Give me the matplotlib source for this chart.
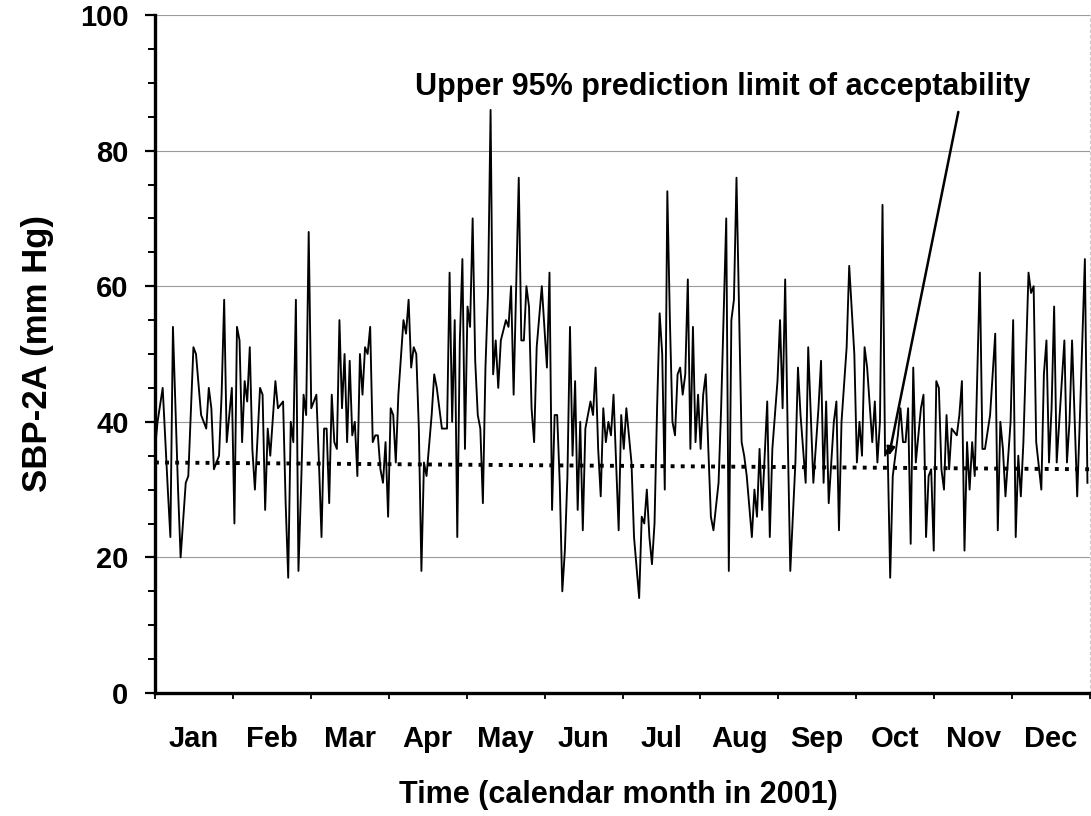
import matplotlib
matplotlib.use("Agg")
import matplotlib.pyplot as plt
from matplotlib.ticker import MultipleLocator, FixedLocator
import numpy as np

plt.rcParams['font.family'] = ['Liberation Sans', 'DejaVu Sans']

# Daily SBP-2A readings (mm Hg), day of year 2001 (0 = 1 Jan)
q1_days = [0, 1, 3, 5, 6, 7, 9, 10, 12, 13,
           15, 16, 18, 19, 20, 21, 22, 23, 25, 26,
           27, 28, 29, 30, 31, 32, 33, 34, 35, 36,
           37, 38, 39, 41, 42, 43, 44, 45, 47, 48,
           50, 51, 52, 53, 54, 55, 56, 57, 58, 59,
           60, 61, 62, 63, 64, 65, 66, 67, 68, 69,
           70, 71, 72, 73, 74, 75, 76, 77, 78, 79,
           80, 81, 82, 83, 84, 85, 86, 87, 88, 89]
q1_sbp = [36, 40, 45, 30, 23, 54, 30, 20, 31, 32,
          51, 50, 41, 40, 39, 45, 42, 33, 35, 44,
          58, 37, 41, 45, 25, 54, 52, 37, 46, 43,
          51, 36, 30, 45, 44, 27, 39, 35, 46, 42,
          43, 28, 17, 40, 37, 58, 18, 30, 44, 41,
          68, 42, 43, 44, 34, 23, 39, 39, 28, 44,
          37, 36, 55, 42, 50, 37, 49, 38, 40, 32,
          50, 44, 51, 50, 54, 37, 38, 38, 33, 31]

q2_days = [90, 91, 92, 93, 94, 95, 97, 98, 99, 100,
           101, 102, 103, 104, 105, 106, 108, 109, 110, 112,
           113, 114, 115, 116, 117, 118, 119, 120, 121, 122,
           123, 124, 125, 126, 127, 128, 129, 130, 131, 132,
           133, 134, 135, 137, 138, 139, 140, 141, 142, 143,
           144, 145, 146, 147, 148, 149, 151, 152, 153, 154,
           155, 156, 157, 158, 159, 160, 161, 162, 163, 164,
           165, 166, 167, 168, 170, 171, 172, 173, 174, 175,
           176, 177, 178, 179, 180]
q2_sbp = [37, 26, 42, 41, 34, 44, 55, 53, 58, 48,
          51, 50, 39, 18, 34, 32, 41, 47, 45, 39,
          39, 39, 62, 40, 55, 23, 52, 64, 36, 57,
          54, 70, 49, 41, 39, 28, 48, 59, 86, 47,
          52, 45, 52, 55, 54, 60, 44, 60, 76, 52,
          52, 60, 57, 42, 37, 51, 60, 54, 48, 62,
          27, 41, 41, 31, 15, 21, 32, 54, 35, 46,
          27, 40, 24, 39, 43, 41, 48, 36, 29, 42,
          37, 40, 38, 44, 34]

q3_days = [181, 182, 183, 184, 186, 187, 189, 190, 191, 192,
           193, 194, 195, 196, 197, 198, 199, 200, 201, 202,
           203, 204, 205, 206, 207, 208, 209, 210, 211, 212,
           213, 214, 215, 216, 217, 218, 220, 221, 223, 224,
           225, 226, 227, 229, 230, 231, 233, 234, 235, 236,
           237, 239, 240, 241, 243, 244, 245, 246, 247, 248,
           250, 251, 252, 254, 255, 257, 259, 260, 261, 262,
           263, 265, 266, 267, 268, 270, 271]
q3_sbp = [24, 41, 36, 42, 34, 23, 14, 26, 25, 30,
          23, 19, 25, 42, 56, 50, 30, 74, 55, 40,
          38, 47, 48, 44, 47, 61, 36, 54, 37, 44,
          36, 44, 47, 36, 26, 24, 31, 42, 70, 18,
          55, 58, 76, 37, 35, 32, 23, 30, 26, 36,
          27, 43, 23, 36, 46, 55, 42, 61, 38, 18,
          34, 48, 41, 31, 51, 31, 42, 49, 31, 43,
          28, 40, 43, 24, 40, 51, 63]

q4_days = [273, 274, 275, 276, 277, 278, 280, 281, 282, 283,
           284, 285, 286, 287, 288, 290, 291, 292, 293, 294,
           295, 296, 297, 299, 300, 301, 302, 303, 304, 305,
           306, 307, 308, 309, 310, 311, 313, 314, 315, 316,
           317, 318, 319, 320, 322, 323, 324, 326, 328, 329,
           330, 331, 332, 334, 335, 336, 337, 338, 339, 341,
           342, 343, 344, 346, 347, 348, 349, 350, 351, 352,
           353, 355, 356, 357, 358, 360, 361, 363, 364]
q4_sbp = [50, 34, 40, 35, 51, 48, 37, 43, 34, 40,
          72, 35, 36, 17, 32, 38, 42, 37, 37, 42,
          22, 48, 34, 42, 44, 23, 32, 33, 21, 46,
          45, 33, 30, 41, 33, 39, 38, 41, 46, 21,
          37, 30, 37, 32, 62, 36, 36, 41, 53, 24,
          40, 36, 29, 40, 55, 23, 35, 29, 37, 62,
          59, 60, 37, 30, 47, 52, 34, 42, 57, 34,
          40, 52, 34, 40, 52, 29, 40, 64, 31]

# Upper 95% prediction limit at the start and end of the year
limit_ends = [34.0, 33.0]

months = ['Jan', 'Feb', 'Mar', 'Apr', 'May', 'Jun',
          'Jul', 'Aug', 'Sep', 'Oct', 'Nov', 'Dec']

days = np.array(q1_days + q2_days + q3_days + q4_days, dtype=float)
sbp = np.array(q1_sbp + q2_sbp + q3_sbp + q4_sbp, dtype=float)
x = days * 12.0 / 365.0  # position in month units

fig = plt.figure(figsize=(10.91, 8.16), dpi=100)
ax = fig.add_axes([155 / 1091, 1 - 693 / 816, (1090 - 155) / 1091, (693 - 15) / 816])

ax.plot(x, sbp, color='black', lw=1.35, zorder=3)
ax.plot([0, 12], limit_ends, color='black', lw=2.8,
        linestyle=(0, (1, 1.6)), zorder=4)

ax.set_xlim(0, 12)
ax.set_ylim(0, 100)

# y axis
ax.yaxis.set_major_locator(MultipleLocator(20))
ax.yaxis.set_minor_locator(MultipleLocator(5))
ax.tick_params(axis='y', which='major', direction='out', length=7, width=1.6,
               pad=12, labelsize=21)
ax.tick_params(axis='y', which='minor', direction='out', length=5, width=1.4)
for lab in ax.get_yticklabels():
    lab.set_fontweight('bold')

# x axis: ticks at month boundaries, labels centred in each month
ax.xaxis.set_major_locator(FixedLocator(np.arange(0, 13)))
ax.xaxis.set_minor_locator(FixedLocator(np.arange(12) + 0.5))
ax.set_xticklabels([])
ax.set_xticklabels(months, minor=True, fontsize=21, fontweight='bold')
ax.tick_params(axis='x', which='major', direction='out', length=4, width=1.3)
ax.tick_params(axis='x', which='minor', length=0, pad=23)

ax.yaxis.grid(True, which='major', color='#9a9a9a', lw=0.8)
ax.set_axisbelow(True)

for side in ('left', 'bottom'):
    ax.spines[side].set_linewidth(2.4)
ax.spines['top'].set_visible(False)
ax.spines['right'].set_color('#c8c8c8')
ax.spines['right'].set_linewidth(0.8)
ax.spines['right'].set_linestyle((0, (2, 3)))

ax.set_ylabel('SBP-2A (mm Hg)', fontsize=25, fontweight='bold')
ax.yaxis.set_label_coords((54 - 155) / 935, 0.5)
ax.set_xlabel('Time (calendar month in 2001)', fontsize=22, fontweight='bold')
ax.xaxis.set_label_coords((618 - 155) / 935, -(780 - 693) / 678)
ax.xaxis.label.set_verticalalignment('top')

ax.text(7.28, 89.4, 'Upper 95% prediction limit of acceptability',
        ha='center', va='center', fontsize=22, fontweight='bold', zorder=5)
ax.annotate('', xy=(9.42, 35.0), xytext=(10.31, 85.7),
            arrowprops=dict(arrowstyle='-|>', color='black', lw=1.8,
                            mutation_scale=12, shrinkA=0, shrinkB=0),
            zorder=5)

fig.savefig('out.png', dpi=100)
